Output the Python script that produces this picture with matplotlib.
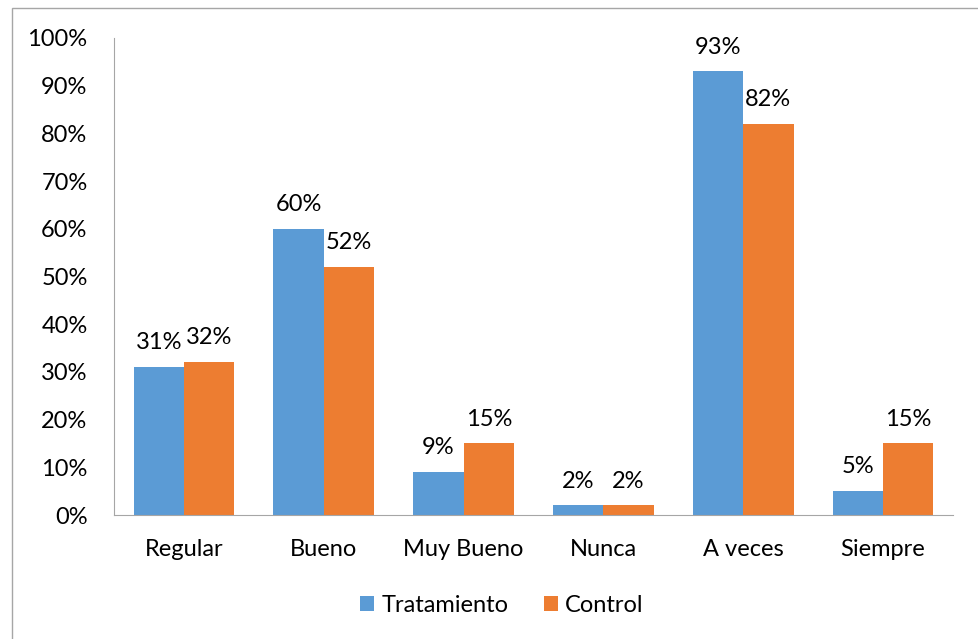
import matplotlib.pyplot as plt
import numpy as np
from matplotlib.patches import Rectangle

plt.rcParams['font.family'] = ['Lato', 'DejaVu Sans']

categories = ["Regular", "Bueno", "Muy Bueno", "Nunca", "A veces", "Siempre"]
tratamiento = [31, 60, 9, 2, 93, 5]
control = [32, 52, 15, 2, 82, 15]

W, H = 979, 639
fs = 17
fig = plt.figure(figsize=(W / 100, H / 100), dpi=100)
# outer chart border
fig.add_artist(Rectangle((12 / W, -0.01), 1.02 - 12 / W, 1 - 8 / H + 0.01,
                         transform=fig.transFigure, fill=False,
                         edgecolor="#A6A6A6", linewidth=1))

ax = fig.add_axes([114 / W, 1 - 515 / H, (953 - 114) / W, (515 - 38) / H])
x = np.arange(len(categories))
w = 0.36
b1 = ax.bar(x - w / 2, tratamiento, w, color="#5B9BD5", label="Tratamiento")
b2 = ax.bar(x + w / 2, control, w, color="#ED7D31", label="Control")

for bars in (b1, b2):
    for r in bars:
        v = r.get_height()
        ax.annotate(f"{v:.0f}%", (r.get_x() + r.get_width() / 2, v),
                    xytext=(0, 10), textcoords="offset points",
                    ha="center", va="bottom", fontsize=fs, color="#000000")

ax.set_xlim(-0.5, len(categories) - 0.5)
ax.set_ylim(0, 100)
ax.set_yticks(range(0, 101, 10))
ax.set_yticklabels([f"{t}%" for t in range(0, 101, 10)], fontsize=fs)
ax.set_xticks(x)
ax.set_xticklabels(categories, fontsize=fs)
ax.tick_params(axis="y", length=0, pad=19)
ax.tick_params(axis="x", length=0, pad=17)
for s in ("top", "right"):
    ax.spines[s].set_visible(False)
for s in ("left", "bottom"):
    ax.spines[s].set_color("#A6A6A6")

fig.legend(loc="center", bbox_to_anchor=(502 / W, 1 - 605 / H), ncol=2,
           frameon=False, fontsize=fs, handlelength=0.6, handleheight=0.6,
           handletextpad=0.3, columnspacing=1.5)

fig.savefig("out.png", dpi=100)
